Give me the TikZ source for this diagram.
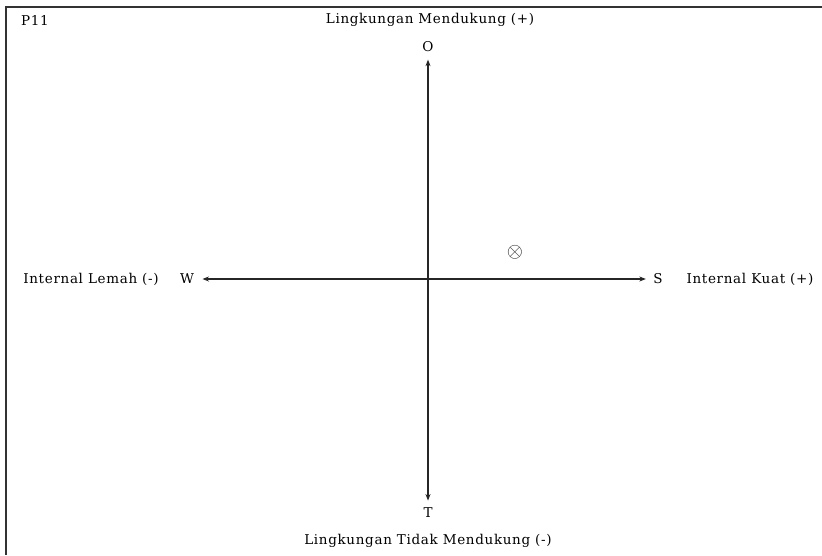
\documentclass[tikz,border=0pt]{standalone}
\usepackage{fontspec}
\setmainfont{DejaVu Serif}[LetterSpace=5]
\usetikzlibrary{arrows.meta,positioning}
\tikzset{
  >={Stealth[length=6.5pt,width=5pt]},
  every node/.style={font=\fontsize{13.5}{15}\selectfont},
  axis/.style={->,line width=1.1pt,black!85},
}

\begin{document}
\begin{tikzpicture}[x=1pt,y=-1pt]
  \useasboundingbox (0,0) rectangle (822,555);
  % frame (only top and left edges show)
  \draw[line width=1.8pt,black!80] (822,7) -- (6,7) -- (6,555);
  \node (tag) at (35,20) {P11};

  \coordinate (c) at (428,279);

  % axis ends
  \node (o) at (428,47) {O};
  \node (t) at (428,513) {T};
  \node (w) at (187,279) {W};
  \node (s) at (658,279) {S};

  % side labels
  \node at (430,20) {Lingkungan Mendukung (+)};
  \node at (428,541) {Lingkungan Tidak Mendukung (-)};
  \node at (91,279) {Internal Lemah (-)};
  \node at (750,279) {Internal Kuat (+)};

  \draw[axis,shorten >=4pt] (c) -- (o);
  \draw[axis,shorten >=4pt] (c) -- (t);
  \draw[axis,shorten >=5pt] (c) -- (w);
  \draw[axis,shorten >=4pt] (c) -- (s);

  % position
  \node[black!85] (pos) at (515,252) {\huge$\otimes$};
\end{tikzpicture}
\end{document}
